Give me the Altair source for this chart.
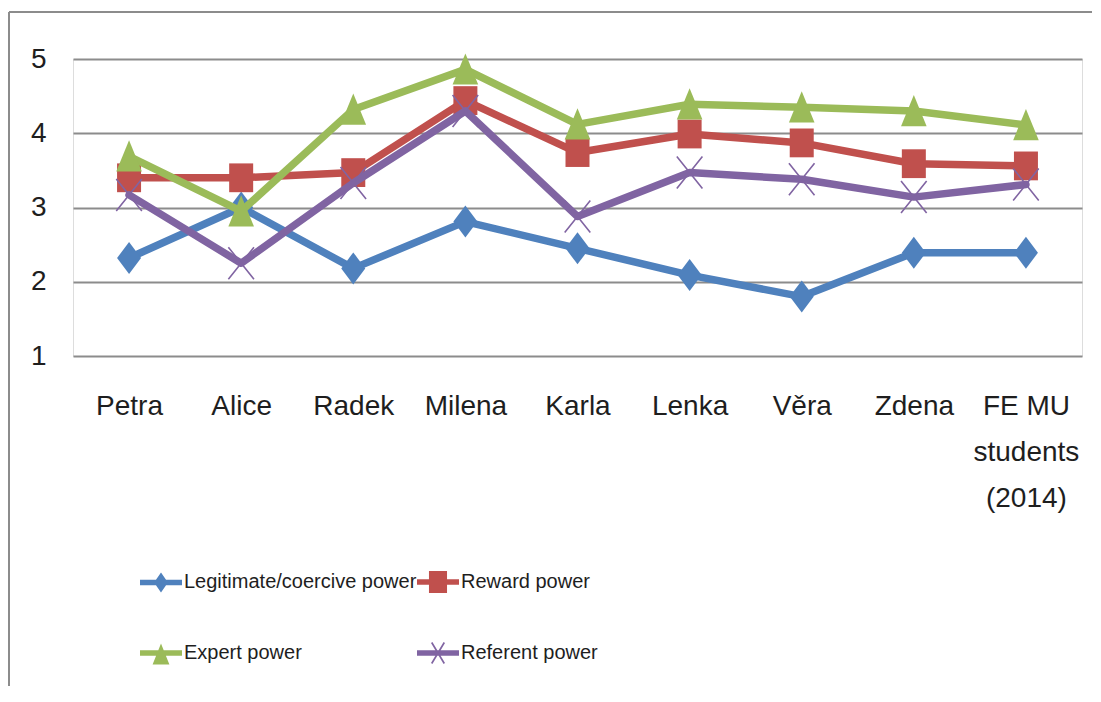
import altair as alt
import pandas as pd

categories = ["Petra", "Alice", "Radek", "Milena", "Karla", "Lenka", "Věra", "Zdena",
              "FE MU students (2014)"]
series_names = ["Legitimate/coercive power", "Reward power", "Expert power", "Referent power"]
legitimate = [2.32, 3.00, 2.18, 2.81, 2.45, 2.09, 1.80, 2.39, 2.39]
reward = [3.40, 3.40, 3.47, 4.44, 3.74, 3.99, 3.87, 3.59, 3.56]
expert = [3.69, 2.95, 4.32, 4.86, 4.12, 4.39, 4.35, 4.30, 4.11]
referent = [3.17, 2.25, 3.33, 4.30, 2.88, 3.47, 3.38, 3.14, 3.31]
y_ticks = [1, 2, 3, 4, 5]
colors = ["#4F81BD", "#C0504D", "#9BBB59", "#8064A2"]

values_by_series = [legitimate, reward, expert, referent]
rows = []
for s, vals in zip(series_names, values_by_series):
    for c, v in zip(categories, vals):
        rows.append({"category": c, "series": s, "value": v})
df = pd.DataFrame(rows)

# marker shapes in the plot (custom paths, unit box -1..1)
marker_paths = [
    "M0,-1L0.75,0L0,1L-0.75,0Z",
    "M-0.75,-0.9H0.75V0.9H-0.75Z",
    "M0,-1L0.8,0.95H-0.8Z",
    "M-0.8,-1L0.8,1M0.8,-1L-0.8,1",
]
# legend symbols: line stub + marker
bar = "M-1,-0.13H1V0.13H-1Z "
legend_paths = [
    bar + "M0,-0.48L0.33,0L0,0.48L-0.33,0Z",
    bar + "M-0.43,-0.52H0.43V0.52H-0.43Z",
    bar + "M0,-0.45L0.4,0.55H-0.4Z",
    bar + "M-0.266,-0.52L0.334,0.48L0.266,0.52L-0.334,-0.48Z "
          "M0.266,-0.52L0.334,-0.48L-0.266,0.52L-0.334,0.48Z",
]

color_scale = alt.Scale(domain=series_names, range=colors)
label_expr = ("datum.value == 'FE MU students (2014)' ? "
              "['FE MU', 'students', '(2014)'] : datum.value")

x_enc = alt.X("category:N", sort=categories,
              scale=alt.Scale(type="point", padding=0.5),
              axis=alt.Axis(title=None, domain=False, ticks=False, tickSize=0,
                            labelAngle=0, labelPadding=36, labelFontSize=28,
                            labelLineHeight=46, labelExpr=label_expr,
                            labelFont="Liberation Sans", labelColor="#1e1e1e",
                            grid=False))
y_enc = alt.Y("value:Q",
              scale=alt.Scale(domain=[1, 5], nice=False, zero=False),
              axis=alt.Axis(title=None, values=y_ticks, domain=False, ticks=False,
                            tickSize=0, labelPadding=27, labelFontSize=28,
                            labelFont="Liberation Sans", labelColor="#1e1e1e",
                            grid=True, gridColor="#8c8c8c", gridWidth=2))

legend_def = alt.Legend(title=None, orient="none", legendX=67, legendY=502,
                        direction="horizontal", columns=2,
                        symbolSize=1764, symbolStrokeWidth=0, symbolOpacity=1,
                        labelFont="Liberation Sans", labelFontSize=20,
                        labelColor="#1e1e1e",
                        labelOffset=2, rowPadding=39, columnPadding=0,
                        padding=0, labelLimit=400)

base = alt.Chart(df)

# legend carrier: tiny points hidden under the real marks
legend_layer = base.mark_point(filled=True, size=1, strokeWidth=0).encode(
    x=x_enc, y=y_enc,
    color=alt.Color("series:N", scale=color_scale, legend=legend_def),
    shape=alt.Shape("series:N", scale=alt.Scale(domain=series_names, range=legend_paths),
                    legend=legend_def),
)

layers = []
for i, s in enumerate(series_names):
    sub = base.transform_filter(alt.datum.series == s)
    line = sub.mark_line(strokeWidth=7.5, strokeJoin="round", strokeCap="round").encode(
        x=x_enc, y=y_enc,
        color=alt.Color("series:N", scale=color_scale, legend=None))
    if i < 3:
        pts = sub.mark_point(filled=True, shape=marker_paths[i], size=1024, opacity=1,
                             strokeWidth=0)
    else:
        pts = sub.mark_point(filled=False, shape=marker_paths[i], size=1024, opacity=1,
                             strokeWidth=1.6)
    pts = pts.encode(x=x_enc, y=y_enc,
                     color=alt.Color("series:N", scale=color_scale, legend=None))
    layers += [line, pts]

frame = pd.DataFrame({"k": [0]})
border_left = alt.Chart(frame).mark_rule(color="#8c8c8c", strokeWidth=2).encode(
    x=alt.value(-64), y=alt.value(-47), y2=alt.value(650))
border_top = alt.Chart(frame).mark_rule(color="#8c8c8c", strokeWidth=2).encode(
    x=alt.value(-64), x2=alt.value(1040), y=alt.value(-47))

chart = alt.layer(border_left, border_top, legend_layer, *layers).properties(
    width=1009, height=297,
    autosize=alt.AutoSizeParams(type="none"),
    padding={"left": 65, "top": 51, "right": 10, "bottom": 330},
).configure_view(stroke=None).configure(background="white")

chart.save("out.html", embed_options={"renderer": "svg", "actions": False})
